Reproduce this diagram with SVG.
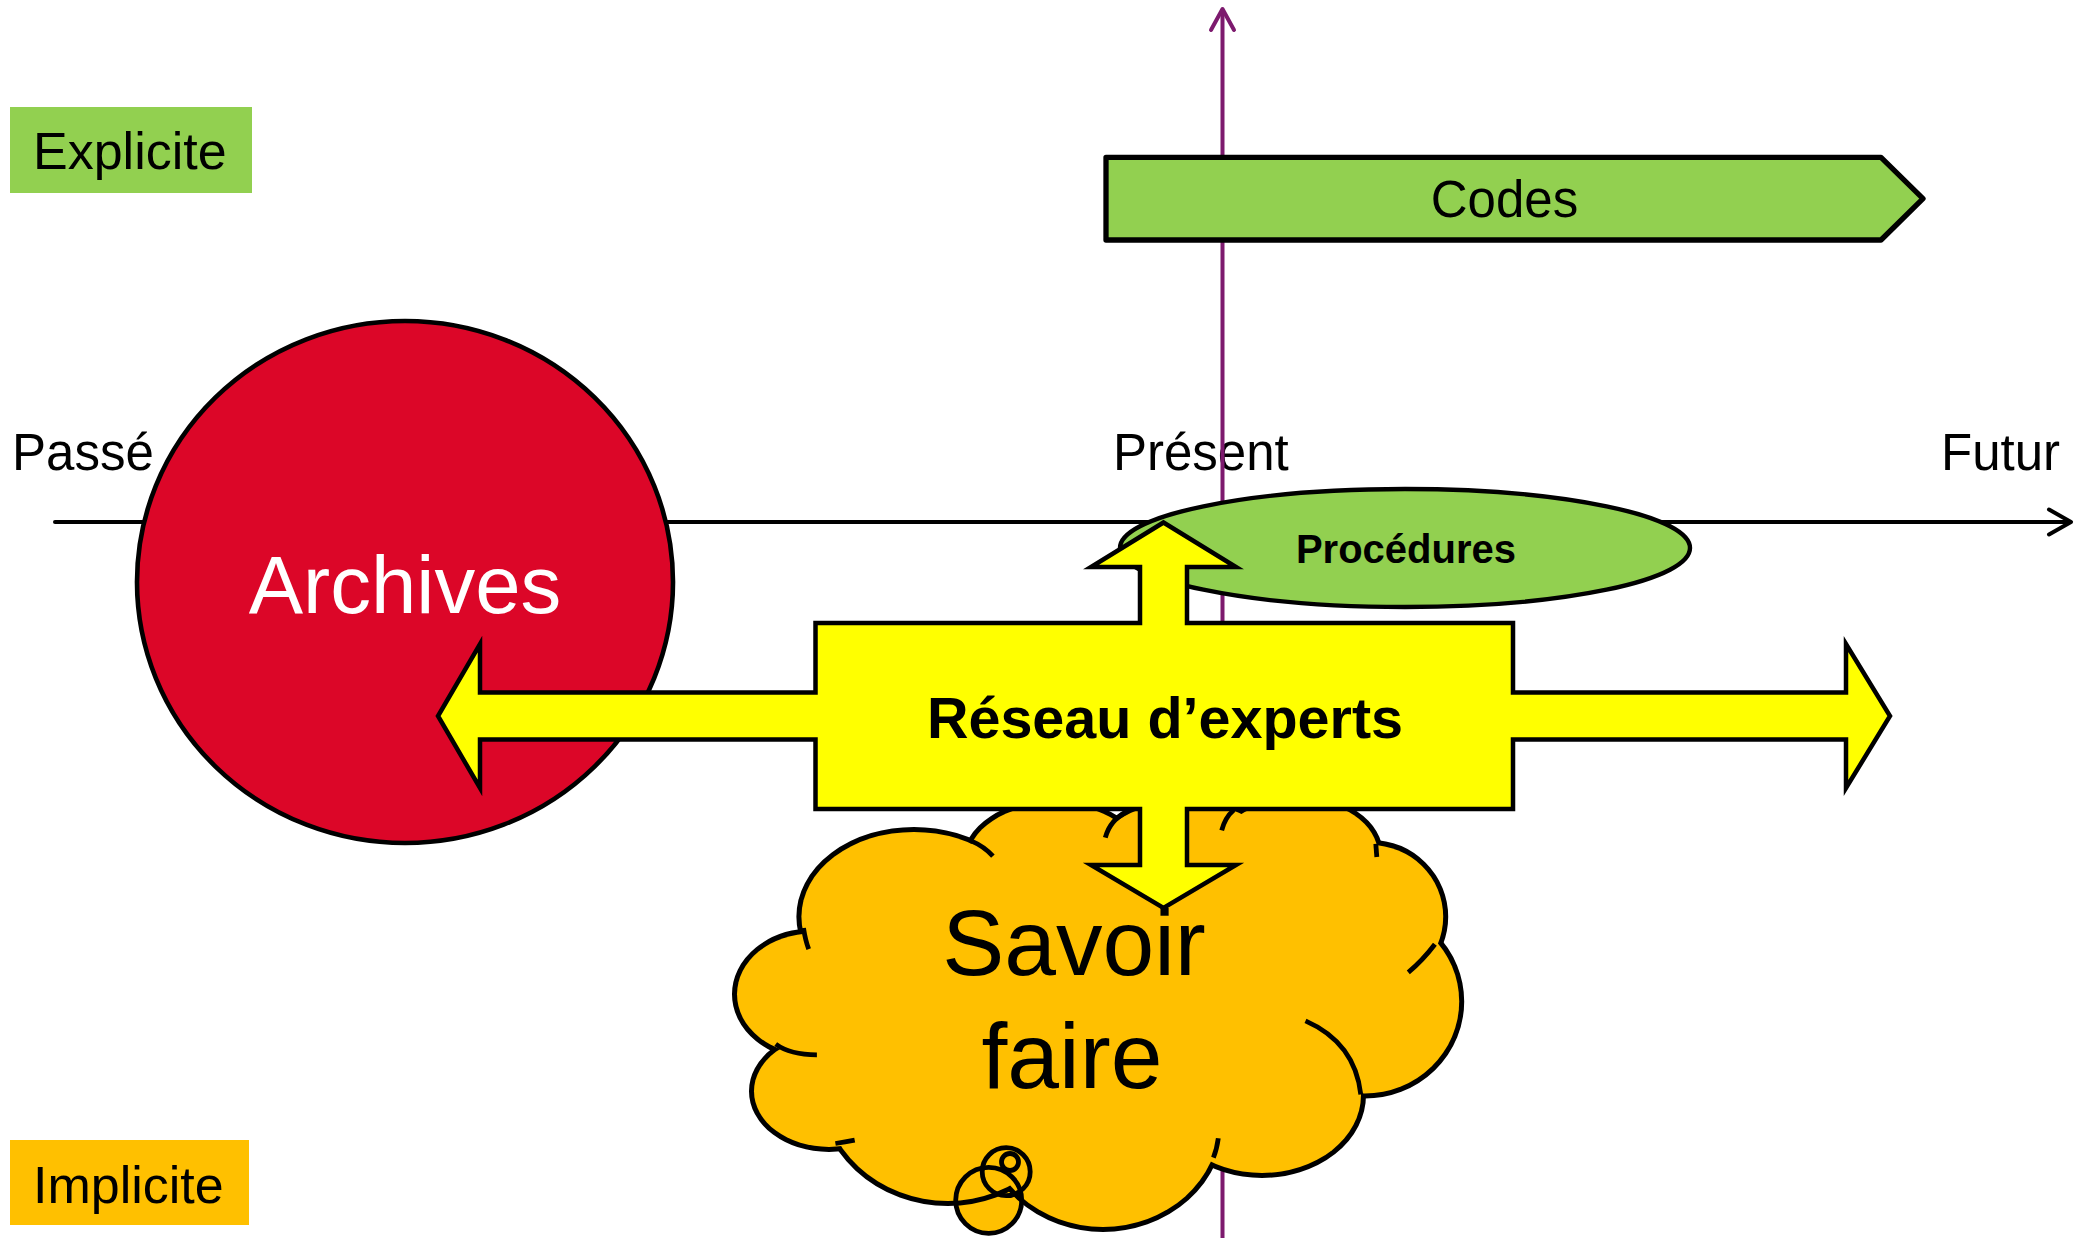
<svg xmlns="http://www.w3.org/2000/svg" width="2087" height="1238" viewBox="0 0 2087 1238">
<style>
.t{font-family:"Liberation Sans",Arial,sans-serif;fill:#000}
.b{font-weight:bold}
.ln{fill:none;stroke-linecap:round;stroke-linejoin:round}
.cl{fill:#FFC000}
</style>
<rect width="2087" height="1238" fill="#fff"/>
<g id="labels">
<text class="t" x="12" y="470" font-size="51">Passé</text>
<text class="t" x="1113" y="470" font-size="51">Présent</text>
<text class="t" x="1941" y="470" font-size="51">Futur</text>
</g>
<g id="connectors">
<g id="time-axis">
<line class="ln" x1="55" y1="522" x2="2069" y2="522" stroke="#000" stroke-width="4"/>
<polyline class="ln" points="2049,509.5 2071,522 2049,534.5" stroke="#000" stroke-width="4"/>
</g>
<g id="present-axis">
<line class="ln" x1="1222.5" y1="1240" x2="1222.5" y2="11" stroke="#7D1A6E" stroke-width="4"/>
<polyline class="ln" points="1211,30 1222.5,9 1234,30" stroke="#7D1A6E" stroke-width="4"/>
</g>
</g>
<g id="explicite">
<rect x="10" y="107" width="242" height="86" fill="#92D050"/>
<text class="t" x="33" y="169" font-size="52">Explicite</text>
</g>
<g id="implicite">
<rect x="10" y="1140" width="239" height="85" fill="#FFC000"/>
<text class="t" x="33" y="1203" font-size="52">Implicite</text>
</g>
<g id="archives">
<ellipse cx="405" cy="582" rx="268" ry="261" fill="#DC0628" stroke="#000" stroke-width="4.6"/>
<text class="t" x="405" y="613" font-size="81.5" text-anchor="middle" style="fill:#fff">Archives</text>
</g>
<g id="procedures">
<ellipse cx="1405" cy="548" rx="285" ry="59" fill="#92D050" stroke="#000" stroke-width="4.4"/>
<text class="t b" x="1406" y="563" font-size="40" text-anchor="middle">Procédures</text>
</g>
<g id="codes">
<polygon points="1106,157.3 1881,157.3 1923,198.6 1881,240 1106,240" fill="#92D050" stroke="#000" stroke-width="5.3" stroke-linejoin="round"/>
<text class="t" x="1504.5" y="217" font-size="51" text-anchor="middle">Codes</text>
</g>
<g id="savoir-faire">
<g class="cl">
<circle cx="988.7" cy="1200.3" r="33"/>
<circle cx="1006.2" cy="1171.7" r="24"/>
<circle cx="1010" cy="1162" r="8.5"/>
</g>
<g class="cl" stroke="#000" stroke-width="10">
<ellipse cx="913.9" cy="916.7" rx="112.5" ry="84.8"/>
<ellipse cx="1054.5" cy="861" rx="87" ry="57"/>
<ellipse cx="1185" cy="850" rx="85" ry="48"/>
<ellipse cx="1296.8" cy="853.7" rx="81" ry="54.3"/>
<ellipse cx="1370.5" cy="916.7" rx="72.7" ry="71.7"/>
<ellipse cx="1364.7" cy="1001.5" rx="94.5" ry="92"/>
<ellipse cx="1262" cy="1095" rx="99" ry="78"/>
<ellipse cx="1103" cy="1122.7" rx="116.3" ry="104.2"/>
<ellipse cx="947.8" cy="1084" rx="126" ry="117"/>
<ellipse cx="829" cy="1091.2" rx="75" ry="55.7"/>
<ellipse cx="812.1" cy="994.2" rx="75.1" ry="60.6"/>
</g>
<g class="cl">
<ellipse cx="913.9" cy="916.7" rx="112.5" ry="84.8"/>
<ellipse cx="1054.5" cy="861" rx="87" ry="57"/>
<ellipse cx="1185" cy="850" rx="85" ry="48"/>
<ellipse cx="1296.8" cy="853.7" rx="81" ry="54.3"/>
<ellipse cx="1370.5" cy="916.7" rx="72.7" ry="71.7"/>
<ellipse cx="1364.7" cy="1001.5" rx="94.5" ry="92"/>
<ellipse cx="1262" cy="1095" rx="99" ry="78"/>
<ellipse cx="1103" cy="1122.7" rx="116.3" ry="104.2"/>
<ellipse cx="947.8" cy="1084" rx="126" ry="117"/>
<ellipse cx="829" cy="1091.2" rx="75" ry="55.7"/>
<ellipse cx="812.1" cy="994.2" rx="75.1" ry="60.6"/>
<ellipse cx="1090" cy="980" rx="230" ry="130"/>
<ellipse cx="1310" cy="920" rx="60" ry="50"/>
</g>
<g fill="none" stroke="#000" stroke-width="4.8">
<circle cx="988.7" cy="1200.3" r="33"/>
<circle cx="1006.2" cy="1171.7" r="24"/>
<circle cx="1010" cy="1162" r="8.5"/>
<path d="M803.5,928 Q805.5,941 808.7,949.1"/>
<path d="M970.6,840.6 Q984.2,846.4 992.9,856.1"/>
<path d="M1105.3,837.6 Q1110.2,819.7 1127.1,811.5"/>
<path d="M1221.7,830.4 Q1225.1,817.3 1233.8,810"/>
<path d="M1375.8,843.9 L1376.8,857"/>
<path d="M1434.9,944.3 Q1422.8,960.3 1408.3,972.4"/>
<path d="M1305.5,1020.9 Q1355,1042.7 1360.8,1094.5"/>
<path d="M1218.3,1138.2 Q1216.8,1149.3 1213.4,1157.6"/>
<path d="M835.4,1143.5 Q845.1,1142 854.7,1140.1"/>
<path d="M775.7,1044.1 Q790.3,1054.8 816.9,1054.8"/>
</g>
<text class="t" x="1074" y="975" font-size="93" text-anchor="middle">Savoir</text>
<text class="t" x="1072" y="1088" font-size="93" text-anchor="middle">faire</text>
</g>
<g id="reseau-experts">
<polygon points="1163.5,522.5 1236,567 1187,567 1187,623 1513,623 1513,692.5 1846,692.5 1846,644 1890,716 1846,788 1846,739.5 1513,739.5 1513,809 1187,809 1187,865 1236,865 1163.5,908 1091,865 1140,865 1140,809 815.5,809 815.5,739.5 480,739.5 480,788 438,716 480,644 480,692.5 815.5,692.5 815.5,623 1140,623 1140,567 1091,567" fill="#FFFF00" stroke="#000" stroke-width="4.5" stroke-linejoin="miter"/>
<text class="t b" x="1165" y="738" font-size="57.5" text-anchor="middle">Réseau d’experts</text>
</g>
</svg>
